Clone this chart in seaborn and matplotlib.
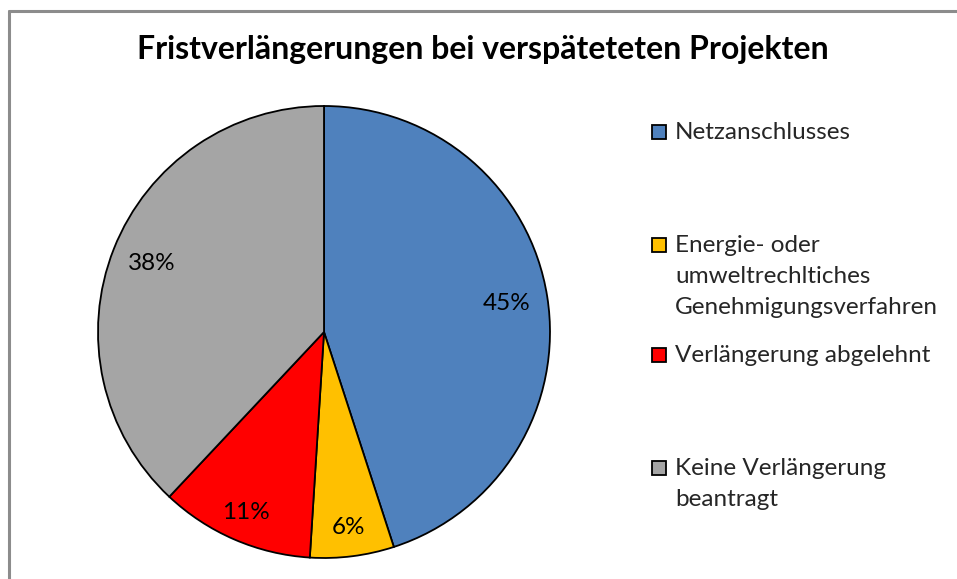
import matplotlib
matplotlib.use("Agg")
import numpy as np
import matplotlib.pyplot as plt
import seaborn as sns
from matplotlib.lines import Line2D

sns.set_theme(style="white")
plt.rcParams['font.family'] = ['Lato', 'DejaVu Sans']

categories = ["Netzanschlusses",
              "Energie- oder\numweltrechltiches\nGenehmigungsverfahren",
              "Verlängerung abgelehnt",
              "Keine Verlängerung\nbeantragt"]
values = [45, 6, 11, 38]
colors = ["#4F81BD", "#FFC000", "#FF0000", "#A5A5A5"]
title = "Fristverlängerungen bei verspäteteten Projekten"

W, H = 957, 579
fig = plt.figure(figsize=(W / 100, H / 100), dpi=100)
fig.patch.set_facecolor("white")

# outer frame (top and left lines visible)
fig.add_artist(Line2D([9 / W, 9 / W], [0, 1 - 11 / H], color="#8C8C8C", lw=2.2,
                      transform=fig.transFigure))
fig.add_artist(Line2D([9 / W, 1], [1 - 11 / H, 1 - 11 / H], color="#8C8C8C", lw=2.2,
                      transform=fig.transFigure))

cx, cy, r = 324, 332, 226
ax = fig.add_axes([(cx - r) / W, (H - cy - r) / H, 2 * r / W, 2 * r / H])
wedges, texts, autotexts = ax.pie(values, colors=colors, startangle=90, counterclock=False,
                                  autopct=lambda p: f"{p:.0f}%", pctdistance=0.82,
                                  wedgeprops=dict(edgecolor="black", linewidth=1.3),
                                  textprops=dict(fontsize=17.5, color="black"))
# label distance per wedge (best-fit style)
label_dist = [0.82, 0.87, 0.87, 0.82]
for w, t, d in zip(wedges, autotexts, label_dist):
    ang = np.deg2rad((w.theta1 + w.theta2) / 2)
    t.set_position((d * np.cos(ang), d * np.sin(ang)))
ax.set_aspect("equal")
ax.set_xlim(-1, 1)
ax.set_ylim(-1, 1)
ax.axis("off")

fig.text(483 / W, 1 - 50 / H, title, ha="center", va="center", fontsize=23,
         fontweight="bold", color="black")

# legend: one entry per block, marker aligned with the first text line
entry_top = [122, 235, 345, 458]
for lab, c, yt in zip(categories, colors, entry_top):
    h = Line2D([], [], linestyle="None", marker="s", markersize=10.5,
               markerfacecolor=c, markeredgecolor="black", markeredgewidth=1.3)
    leg = fig.legend([h], [lab], loc="upper left", bbox_to_anchor=(650 / W, 1 - yt / H),
                     frameon=False, fontsize=17.5, handlelength=0.75, handleheight=1.0,
                     handletextpad=0.28, borderpad=0, borderaxespad=0)
    for t in leg.get_texts():
        t.set_linespacing(1.58)
    for col in leg._legend_handle_box.get_children():
        for item in col.get_children():
            item.align = "top"

fig.savefig("out.png", dpi=100)
